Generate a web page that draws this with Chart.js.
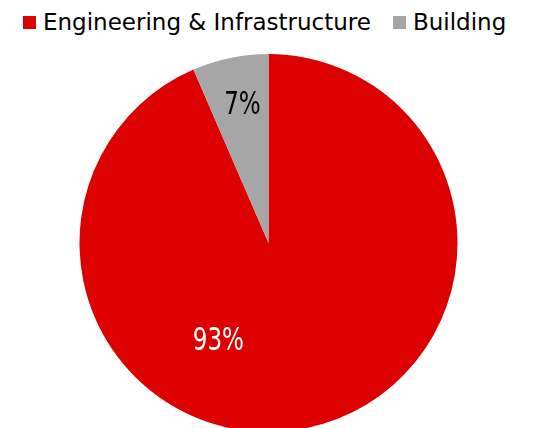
<!DOCTYPE html>
<html>
<head>
<meta charset="utf-8">
<script src="https://cdn.jsdelivr.net/npm/chart.js@4/dist/chart.umd.min.js"></script>
<style>
  html, body { margin: 0; padding: 0; background: #fff; overflow: hidden; }
  #wrap { position: relative; width: 537px; height: 428px; overflow: hidden; }
  #leyenda { position: absolute; left: 23px; top: 9px; display: flex; align-items: center;
             font-family: "DejaVu Sans", sans-serif; font-size: 23px; line-height: 27px; color: #000; }
  .item { display: flex; align-items: center; }
  .item + .item { margin-left: 22px; }
  .caja { width: 13px; height: 13px; margin-right: 7px; }
  #grafica { position: absolute; left: 0; top: 54px; }
</style>
</head>
<body>
<div id="wrap">
  <div id="leyenda"></div>
  <canvas id="grafica" width="537" height="378"></canvas>
</div>
<script>
// datos del grafico
const categorias = ['Engineering & Infrastructure', 'Building'];
const valores = [93.5, 6.5];
const etiquetas = ['93%', '7%'];
const colores = ['#dd0000', '#a6a6a6'];
const coloresTexto = ['#ffffff', '#000000'];

// posicion de cada etiqueta respecto al centro, en fracciones del radio
const posEtiquetas = [[-0.265, 0.52], [-0.138, -0.725]];

const leyenda = document.getElementById('leyenda');
categorias.forEach(function (nombre, i) {
    const item = document.createElement('div');
    item.className = 'item';
    const caja = document.createElement('span');
    caja.className = 'caja';
    caja.style.background = colores[i];
    const texto = document.createElement('span');
    texto.textContent = nombre;
    item.appendChild(caja);
    item.appendChild(texto);
    leyenda.appendChild(item);
});

const pluginEtiquetas = {
    id: 'etiquetas',
    afterDatasetsDraw(chart) {
        const ctx = chart.ctx;
        const arcos = chart.getDatasetMeta(0).data;
        arcos.forEach(function (arco, i) {
            const r = arco.outerRadius;
            ctx.save();
            ctx.translate(arco.x + posEtiquetas[i][0] * r, arco.y + posEtiquetas[i][1] * r);
            // la fuente del original es mas estrecha
            ctx.scale(0.8, 1);
            ctx.font = '32px "DejaVu Sans Condensed", "DejaVu Sans", sans-serif';
            ctx.textAlign = 'center';
            ctx.textBaseline = 'middle';
            ctx.fillStyle = coloresTexto[i];
            ctx.fillText(etiquetas[i], 0, 0);
            ctx.restore();
        });
    }
};

new Chart(document.getElementById('grafica'), {
    type: 'pie',
    data: {
        labels: categorias,
        datasets: [{
            data: valores,
            backgroundColor: colores,
            borderWidth: 0
        }]
    },
    options: {
        responsive: false,
        animation: false,
        devicePixelRatio: 1,
        layout: { padding: 0 },
        plugins: {
            legend: { display: false },
            tooltip: { enabled: false }
        }
    },
    plugins: [pluginEtiquetas]
});
</script>
</body>
</html>
